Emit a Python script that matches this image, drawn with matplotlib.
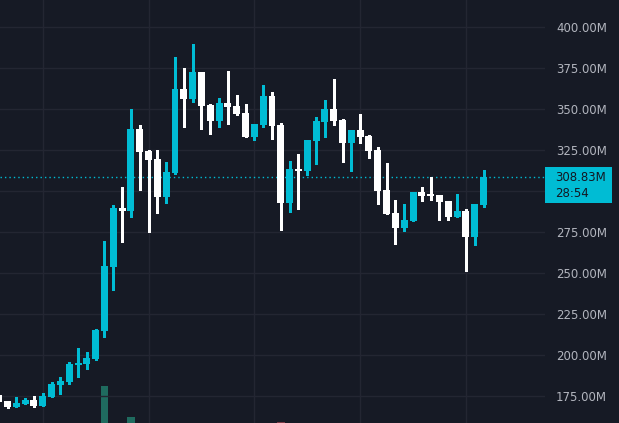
import matplotlib
matplotlib.use("Agg")
import matplotlib.pyplot as plt
from matplotlib.patches import Rectangle
from matplotlib.ticker import FuncFormatter

# OHLC in millions (oldest first)
opens = [175.8, 172.1, 168.7, 170.3, 172.9, 169.3, 174.8, 181.9, 183.7, 194.1,
         194.7, 197.8, 214.8, 253.9, 289.8, 288.0, 338.0, 324.6, 319.7, 296.5,
         311.2, 362.4, 356.3, 372.8, 352.6, 342.9, 353.9, 352.0, 347.8, 333.1,
         340.4, 358.1, 340.4, 292.9, 313.6, 312.4, 330.7, 342.3, 350.2, 343.5,
         329.5, 337.4, 333.7, 325.2, 300.8, 286.8, 277.6, 281.9, 299.6, 298.4,
         297.8, 294.1, 284.3, 288.0, 272.1, 291.7]
highs = [176.5, 172.1, 174.6, 174.0, 175.2, 177.0, 183.7, 186.8, 195.9, 204.5,
         202.0, 216.0, 269.7, 291.7, 302.6, 350.2, 340.4, 325.2, 325.2, 317.9,
         381.9, 375.2, 389.8, 372.8, 353.2, 356.9, 373.4, 358.7, 353.2, 341.0,
         364.8, 360.6, 341.7, 318.5, 322.8, 331.3, 345.3, 355.7, 368.5, 344.1,
         337.4, 347.1, 334.3, 327.0, 317.3, 294.7, 292.3, 299.6, 302.6, 308.7,
         297.8, 294.1, 298.4, 289.2, 292.3, 313.0]
lows = [171.0, 168.1, 168.7, 170.3, 168.7, 169.3, 174.8, 176.4, 182.5, 186.8,
        191.7, 197.1, 211.2, 239.8, 269.1, 284.3, 300.8, 275.2, 286.8, 292.9,
        310.6, 339.2, 354.5, 338.0, 334.9, 339.2, 341.0, 346.5, 333.1, 331.3,
        339.2, 331.9, 276.4, 287.4, 289.2, 309.9, 316.7, 333.1, 340.4, 317.9,
        312.4, 329.5, 320.3, 292.3, 286.2, 267.9, 275.8, 281.9, 294.1, 294.7,
        282.5, 282.5, 284.3, 251.4, 267.3, 290.4]
closes = [171.5, 168.7, 170.9, 172.9, 169.3, 175.2, 182.5, 184.3, 194.7, 195.3,
          198.4, 215.4, 254.5, 289.8, 288.0, 338.0, 324.0, 319.1, 296.5, 311.8,
          362.4, 356.3, 372.8, 352.0, 342.9, 353.9, 351.4, 347.1, 333.1, 341.0,
          358.1, 339.8, 292.9, 313.6, 312.4, 331.3, 342.9, 350.2, 342.9, 329.5,
          337.4, 333.1, 324.6, 300.2, 286.2, 277.6, 282.5, 299.6, 297.1, 297.1,
          293.5, 284.3, 288.0, 272.1, 292.3, 308.83]
# only the tallest volume bars reach into view
volumes = {12: 37, 15: 6, 32: 1.5}

last_price = 308.83
countdown = "28:54"
grid_prices = [175, 200, 225, 250, 275, 300, 325, 350, 375, 400]
# 300.00M sits under the last-price badge, so it gets no label
label_prices = [175, 200, 225, 250, 275, 325, 350, 375, 400]

bg = "#161a25"
grid_col = "#232632"
up_col = "#00bcd4"
down_col = "#ffffff"
text_col = "#b2b5be"

W, H = 619, 423
fig = plt.figure(figsize=(W / 100, H / 100), dpi=100, facecolor=bg)
ax = fig.add_axes([0, 0, 545 / W, 1])
ax.set_facecolor(bg)

n = len(opens)
xs = list(range(n))

# volume overlay
vax = ax.twinx()
vax.set_ylim(0, H)
vx = list(volumes.keys())
vcol = ["#1f6b5f" if closes[i] >= opens[i] else "#7b3a45" for i in vx]
vax.bar(vx, [volumes[i] for i in vx], width=0.85, color=vcol, zorder=1)
vax.axis("off")

ax.set_zorder(vax.get_zorder() + 1)
ax.patch.set_visible(False)
vax.patch.set_visible(False)

for i in xs:
    o, h, l, c = opens[i], highs[i], lows[i], closes[i]
    col = up_col if c >= o else down_col
    ax.vlines(i, l, h, color=col, linewidth=1.0, antialiased=False, zorder=3)
    ax.bar(i, max(abs(c - o), 0.9), bottom=min(o, c), width=0.79,
           color=col, linewidth=0, zorder=4)

ax.set_xlim(0.147, 61.97)
ax.set_ylim(158.7, 416.6)

for p in grid_prices:
    ax.axhline(p, color=grid_col, linewidth=1, zorder=0)
for gx in [5, 17, 29, 41, 53]:
    ax.axvline(gx, color=grid_col, linewidth=1, zorder=0)

ax.axhline(last_price, color=up_col, linewidth=1, linestyle=(0, (1, 2.2)), zorder=2)

ax.yaxis.tick_right()
ax.set_yticks(label_prices)
ax.yaxis.set_major_formatter(FuncFormatter(lambda v, _: f"{v:.2f}M"))
ax.tick_params(axis="y", length=0, pad=8, labelsize=8.5, labelcolor=text_col)
ax.set_xticks([])
for s in ax.spines.values():
    s.set_visible(False)

# last price badge
box = Rectangle((545 / W, 1 - 203 / H), 67 / W, 36 / H, transform=fig.transFigure,
                facecolor=up_col, edgecolor="none", zorder=5)
fig.add_artist(box)
fig.text(555 / W, 1 - 185.5 / H, f"{last_price:.2f}M\n{countdown}", color="#131722",
         fontsize=8.5, ha="left", va="center", linespacing=1.35, zorder=6)

fig.savefig("out.png", dpi=100, facecolor=bg)
